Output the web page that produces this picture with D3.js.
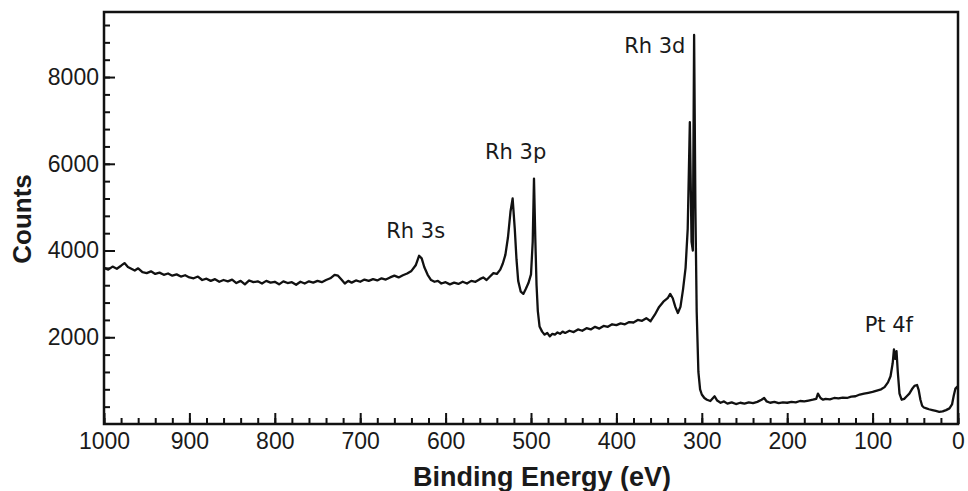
<!DOCTYPE html>
<meta charset="utf-8">
<script src="https://d3js.org/d3.v7.min.js"></script>
<style>
  body { margin: 0; background: #fff; }
</style>
<svg id="chart" width="968" height="491"></svg>
<script>

// binding energy (eV)
var energy = [1000, 995, 990, 985, 980, 976, 972, 968, 964, 960, 955, 950, 945, 940, 935, 930, 925, 920, 915, 910,
  905, 900, 895, 890, 885, 880, 875, 870, 865, 860, 855, 850, 845, 840, 835, 830, 825, 820, 815, 810,
  805, 800, 795, 790, 785, 780, 775, 770, 765, 760, 755, 750, 745, 740, 735, 730, 726, 722, 718, 714,
  710, 705, 700, 695, 690, 685, 680, 675, 670, 665, 660, 655, 650, 645, 640, 635, 631, 628, 625, 621,
  617, 613, 609, 605, 600, 595, 590, 585, 580, 575, 570, 565, 560, 556, 552, 548, 544, 540, 536, 533,
  530, 527, 524, 521.5, 519, 517, 515, 512, 509, 506, 503, 500, 498, 496.5, 495, 493.5, 492, 490, 487, 484,
  481, 478, 475, 472, 469, 466, 463, 460, 455, 450, 445, 440, 435, 430, 425, 420, 415, 410, 405, 400,
  395, 390, 385, 380, 375, 370, 365, 360, 355, 350, 345, 340, 337, 334, 331, 328, 325, 322, 319, 316.5,
  314, 312, 310.5, 309, 307.5, 306, 304, 302, 300, 297, 294, 290, 285, 282, 278, 274, 270, 265, 260, 255,
  250, 245, 240, 235, 230, 227, 224, 220, 215, 210, 205, 200, 195, 190, 185, 180, 175, 170, 166, 164,
  161, 158, 155, 150, 145, 140, 135, 130, 125, 120, 115, 110, 105, 100, 95, 90, 86, 82, 79, 76.5,
  75, 73.5, 72, 70.5, 68.5, 66, 63, 60, 57, 54, 51, 48, 46, 44, 42, 40, 37, 34, 30, 26,
  22, 18, 14, 10, 7, 5, 3, 1, 0];

// counts at each energy
var counts = [3600, 3560, 3630, 3580, 3650, 3710, 3620, 3580, 3540, 3590, 3500, 3480, 3520, 3460, 3490, 3440, 3470, 3420, 3450, 3400,
  3430, 3380, 3360, 3400, 3320, 3350, 3300, 3340, 3280, 3320, 3290, 3330, 3250, 3300, 3220, 3310, 3270, 3290, 3240, 3300,
  3260, 3280, 3220, 3290, 3250, 3270, 3210, 3280, 3240, 3290, 3260, 3300, 3270, 3320, 3360, 3440, 3420, 3330, 3240, 3300,
  3260, 3310, 3280, 3330, 3300, 3340, 3310, 3360, 3330, 3380, 3420, 3380, 3430, 3470, 3530, 3660, 3880, 3820, 3620, 3440,
  3320, 3280, 3300, 3240, 3270, 3220, 3260, 3230, 3280, 3240, 3300, 3280, 3340, 3380, 3320, 3400, 3480, 3460, 3560, 3700,
  3900, 4300, 4900, 5200, 4500, 3800, 3300, 3050, 3000, 3120, 3250, 3450, 4200, 5660, 4300, 3200, 2600, 2250, 2130, 2060,
  2100, 2020, 2080, 2060, 2110, 2080, 2130, 2100, 2150, 2120, 2180, 2150, 2210, 2180, 2240, 2200, 2260, 2240, 2300, 2280,
  2320, 2300, 2350, 2340, 2400, 2380, 2440, 2370, 2520, 2700, 2820, 2900, 3000, 2900, 2700, 2560, 2700, 3100, 3600, 4500,
  6960, 4200, 4000, 8970, 5000, 2600, 1200, 800, 680, 600, 560, 530, 640, 540, 490, 520, 470, 500, 460, 490,
  470, 500, 480, 510, 560, 600, 520, 490, 510, 480, 500, 490, 510, 500, 530, 520, 540, 560, 580, 700,
  600, 560, 580, 570, 600, 590, 610, 600, 630, 640, 680, 700, 720, 740, 770, 800, 850, 960, 1100, 1400,
  1720, 1500, 1680, 1200, 700, 560, 580, 640, 700, 800, 880, 900, 780, 560, 420, 380, 360, 340, 320, 300,
  280, 290, 320, 360, 450, 650, 820, 860, 800];

var xTicks = [1000, 900, 800, 700, 600, 500, 400, 300, 200, 100, 0];
var yTicks = [2000, 4000, 6000, 8000];

// peak annotations: name, energy and counts where the label sits
var peakNames = ["Rh 3s", "Rh 3p", "Rh 3d", "Pt 4f"];
var peakEnergy = [635, 518, 355, 81];
var peakCounts = [4290, 6110, 8550, 2120];

var svg = d3.select("#chart");
var margin = {left: 104, right: 10, top: 12, bottom: 67};
var width = 968 - margin.left - margin.right;
var height = 491 - margin.top - margin.bottom;

var x = d3.scaleLinear().domain([1000, 0]).range([0, width]);
var y = d3.scaleLinear().domain([0, 9500]).range([height, 0]);

var g = svg.append("g")
  .attr("transform", "translate(" + margin.left + "," + margin.top + ")");

// minor ticks
g.append("g")
  .attr("transform", "translate(0," + height + ")")
  .call(d3.axisBottom(x).tickValues(d3.range(0, 1001, 20)).tickSize(-6).tickSizeOuter(0).tickFormat(""))
  .call(a => a.select(".domain").remove());
g.append("g")
  .call(d3.axisLeft(y).tickValues(d3.range(400, 9500, 400)).tickSize(-6).tickSizeOuter(0).tickFormat(""))
  .call(a => a.select(".domain").remove());

// major ticks with labels
var xAxis = g.append("g")
  .attr("transform", "translate(0," + height + ")")
  .call(d3.axisBottom(x).tickValues(xTicks).tickSize(-11).tickSizeOuter(0).tickPadding(9).tickFormat(d3.format("d")));
var yAxis = g.append("g")
  .call(d3.axisLeft(y).tickValues(yTicks).tickSize(-11).tickSizeOuter(0).tickPadding(5).tickFormat(d3.format("d")));

g.selectAll(".tick line").attr("stroke", "#111").attr("stroke-width", 2);
g.selectAll(".domain").remove();
g.selectAll(".tick text")
  .attr("font-family", "'Liberation Sans', Arial, sans-serif")
  .attr("font-size", 23)
  .attr("fill", "#1a1a1a");

// spectrum
var line = d3.line()
  .x(function(d, i){ return x(energy[i]) })
  .y(function(d){ return y(d) });

g.append("path")
  .datum(counts)
  .attr("d", line)
  .attr("fill", "none")
  .attr("stroke", "#111")
  .attr("stroke-width", 2.3)
  .attr("stroke-linejoin", "round");

// frame
g.append("rect")
  .attr("width", width)
  .attr("height", height)
  .attr("fill", "none")
  .attr("stroke", "#111")
  .attr("stroke-width", 2.5);

// peak labels
g.selectAll(".peak")
  .data(peakNames)
  .join("text")
    .attr("class", "peak")
    .attr("x", function(d, i){ return x(peakEnergy[i]) })
    .attr("y", function(d, i){ return y(peakCounts[i]) })
    .attr("text-anchor", "middle")
    .attr("font-family", "'DejaVu Sans', sans-serif")
    .attr("font-size", 21)
    .attr("fill", "#1a1a1a")
    .text(function(d){ return d });

// axis titles
svg.append("text")
  .attr("x", 542)
  .attr("y", 486)
  .attr("text-anchor", "middle")
  .attr("font-family", "'Liberation Sans', Arial, sans-serif")
  .attr("font-weight", "bold")
  .attr("font-size", 27)
  .attr("fill", "#1a1a1a")
  .text("Binding Energy (eV)");

svg.append("text")
  .attr("transform", "translate(31," + 219 + ") rotate(-90)")
  .attr("text-anchor", "middle")
  .attr("font-family", "'Liberation Sans', Arial, sans-serif")
  .attr("font-weight", "bold")
  .attr("font-size", 26)
  .attr("fill", "#1a1a1a")
  .text("Counts");

</script>
